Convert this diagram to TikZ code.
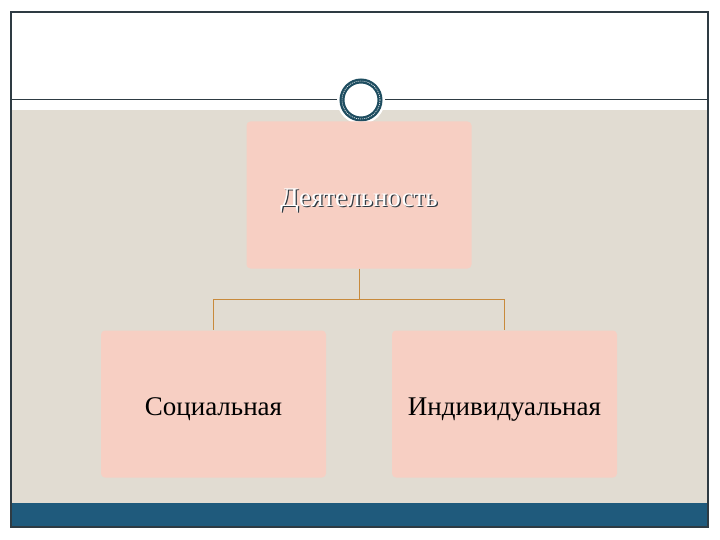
\documentclass[tikz,border=0pt]{standalone}
\usepackage{fontspec}
\setmainfont{Liberation Serif}
\definecolor{slidebeige}{HTML}{E1DCD2}
\definecolor{slideblue}{HTML}{1F5A7C}
\definecolor{slidedark}{HTML}{2E3B43}
\definecolor{ringblue}{HTML}{1E4D60}
\definecolor{boxpink}{HTML}{F7CFC3}
\definecolor{linkbrown}{HTML}{C88A3C}

\begin{document}
\begin{tikzpicture}[x=1pt,y=-1pt,
    kindbox/.style={fill=boxpink,rounded corners=4pt,minimum width=225pt,minimum height=147pt,
      text height=23pt,text depth=0pt,font=\fontsize{27}{32}\selectfont},
    link/.style={draw=linkbrown,line width=1pt}]

            % page and frame
            \fill[white](0,0) rectangle (720,540);
            \useasboundingbox (0,0) rectangle (720,540);
            \fill[slidebeige](12,110) rectangle (707,503);
            \fill[slideblue](12,503) rectangle (707,527);
            \draw[slidedark,line width=1.3pt](11,12) rectangle (708,527);
            \draw[slidedark,line width=1pt](12,100)--(707,100);

            % ring on the title line
            \fill[white](361,100) circle [radius=24];
            \draw[ringblue,line width=5pt](361,100) circle [radius=19];
            \draw[white,line width=0.6pt,dash pattern=on 1pt off 1pt](361,100) circle [radius=19];

            \node[kindbox] (act) at (359,195) {};
            \node[kindbox] (soc) at (213.5,404) {Социальная};
            \node[kindbox] (ind) at (504.5,404) {Индивидуальная};

            \node[text=slidedark,font=\fontsize{27}{32}\selectfont,text height=23pt,text depth=0pt] at ([shift={(1.3,1.3)}]act.center) {Деятельность};
            \node[text=white,font=\fontsize{27}{32}\selectfont,text height=23pt,text depth=0pt] (acttext) at (act.center) {Деятельность};

            \coordinate (fork) at ([yshift=-31pt]act.south);
            \draw[link](act.south)--(fork);
            \draw[link](fork)-|(soc.north);
            \draw[link](fork)-|(ind.north);
        \end{tikzpicture}
\end{document}
